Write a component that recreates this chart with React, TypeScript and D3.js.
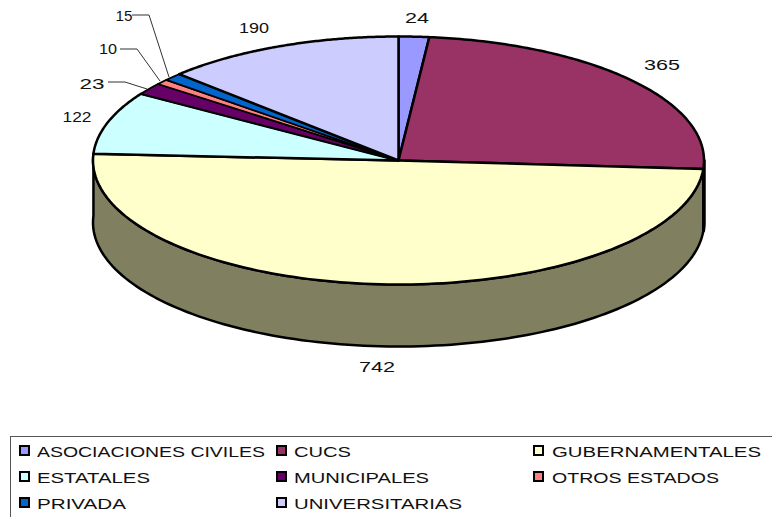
import React from "react";
import * as d3 from "d3";

const categories = ["ASOCIACIONES CIVILES", "CUCS", "GUBERNAMENTALES", "ESTATALES", "MUNICIPALES", "OTROS ESTADOS", "PRIVADA", "UNIVERSITARIAS"];
const values = [24, 365, 742, 122, 23, 10, 15, 190];
const colors = ["#9999FF", "#993366", "#FFFFCC", "#CCFFFF", "#660066", "#FF8080", "#0066CC", "#CCCCFF"];
const legendTextWidths = [228, 57, 209, 113, 135, 167, 89, 168];
const labelPositions = [[417, 23], [662, 70], [377, 372], [77, 122], [92, 89], [108, 54], [124, 21], [254, 33]];
const labelWidths = [24, 36, 36, 29, 25, 18, 17, 30];
const leaders = [
  [[108, 82], [125, 82], [147, 89]],
  [[120, 49], [137, 49], [160, 81]],
  [[132, 15], [149, 15], [169, 77]],
];

const cx = 398.5, cy = 160.5, rx = 305.5, ry = 124, depth = 62;
const FONT = "'Liberation Sans', Arial, sans-serif";

const xS = d3.scaleLinear().domain([-1, 1]).range([cx - rx, cx + rx]);
const yS = d3.scaleLinear().domain([-1, 1]).range([cy - ry, cy + ry]);
const pt = (a: number, dy = 0): [number, number] => [xS(Math.sin(a)), yS(-Math.cos(a)) + dy];

const arcPts = (a0: number, a1: number, dy = 0) =>
  d3.range(0, 121).map((i) => pt(a0 + ((a1 - a0) * i) / 120, dy));

const line = d3.line();
const arcs = d3.pie<number>().sort(null).startAngle(0).endAngle(2 * Math.PI)(values);

function wallPath(a0: number, a1: number) {
  return line([...arcPts(a0, a1), ...arcPts(a1, a0, depth)]) + "Z";
}
function slicePath(a0: number, a1: number) {
  return line([[cx, cy], ...arcPts(a0, a1)]) + "Z";
}

export default function App() {
  const front = arcs[2];
  const side = arcs[1];
  return (
    <svg width={772} height={517} style={{ position: "absolute", left: 0, top: 0 }} fontFamily={FONT}>
      <rect width={772} height={517} fill="#fff" />
      <path d={wallPath(Math.PI / 2, side.endAngle)} fill="#000" stroke="#000" strokeWidth={3.5} strokeLinejoin="round" />
      <path d={wallPath(side.endAngle, front.endAngle)} fill="#808060" stroke="#000" strokeWidth={2.5} strokeLinejoin="round" />
      {arcs.map((d, i) => (
        <path key={i} d={slicePath(d.startAngle, d.endAngle)} fill={colors[i]} stroke="#000"
          strokeWidth={values[i] < 30 && i > 0 ? 1.8 : 2.5} strokeLinejoin="round" />
      ))}
      {leaders.map((l, i) => (
        <path key={i} d={line(l as [number, number][]) as string} fill="none" stroke="#333" strokeWidth={1} />
      ))}
      {values.map((v, i) => (
        <text key={i} x={labelPositions[i][0] - labelWidths[i] / 2} y={labelPositions[i][1]} fontSize={15.5} fill="#111"
          textLength={labelWidths[i]} lengthAdjust="spacingAndGlyphs">{v}</text>
      ))}
      <rect x={10.5} y={436.5} width={770} height={90} fill="#fff" stroke="#555" strokeWidth={1} />
      {categories.map((c, i) => {
        const col = i % 3, row = Math.floor(i / 3);
        const sx = [20, 277, 534][col], tx = [37, 294, 552][col], y = 450.5 + row * 26;
        return (
          <g key={c}>
            <rect x={sx} y={y - 4.5} width={9} height={9} fill={colors[i]} stroke="#000" strokeWidth={2} />
            <text x={tx} y={y + 6} fontSize={15.5} fill="#111" textLength={legendTextWidths[i]} lengthAdjust="spacingAndGlyphs">{c}</text>
          </g>
        );
      })}
    </svg>
  );
}
